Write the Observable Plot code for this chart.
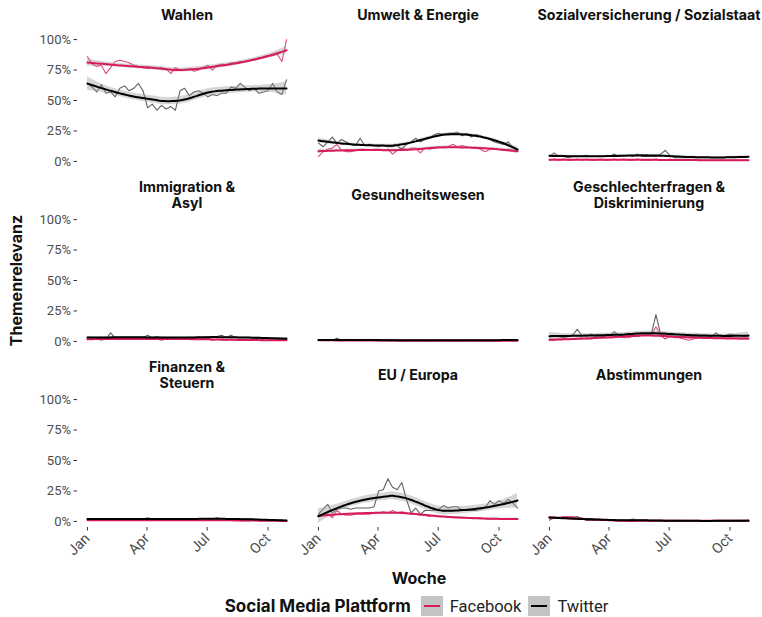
<!DOCTYPE html>
<html>
<head>
<meta charset="utf-8">
<script src="https://cdn.jsdelivr.net/npm/d3@7"></script>
<script src="https://cdn.jsdelivr.net/npm/@observablehq/plot@0.6"></script>
<style>
  html, body { margin: 0; padding: 0; background: #fff; }
  #chart { position: relative; width: 762px; }
  .xtitle { width: 762px; text-align: center; padding-left: 76px; box-sizing: border-box; height: 26px; line-height: 26px;
            font-family: "Inter", sans-serif; font-weight: 700; font-size: 16px; color: #111; }
  .legend { width: 762px; height: 30px; display: flex; justify-content: center; align-items: center;
            padding-left: 78px; box-sizing: border-box;
            font-family: Roboto, sans-serif; font-size: 16.5px; color: #222; }
  .legend .lt { font-family: "Inter", sans-serif; font-weight: 700; font-size: 17px; color: #111; margin-right: 10px; }
  .legend .key { width: 22px; height: 20px; background: #c4c4c4; position: relative; margin-right: 7px; }
  .legend .key i { position: absolute; left: 3px; right: 3px; top: 9px; height: 2px; }
  .legend .lab { margin-right: 7px; }
</style>
</head>
<body>
<div id="chart"></div>
<div class="xtitle">Woche</div>
<div class="legend">
  <span class="lt">Social Media Plattform</span>
  <span class="key"><i style="background:#d81b60"></i></span><span class="lab">Facebook</span>
  <span class="key"><i style="background:#000"></i></span><span class="lab">Twitter</span>
</div>
<script>
// ---------- data (weekly shares in %, 44 weeks from 2019-01-01) ----------
const startDate = "2019-01-01";
const nWeeks = 44;
const platforms = ["Facebook", "Twitter"];
const topics = [
  "Wahlen", "Umwelt & Energie", "Sozialversicherung / Sozialstaat",
  "Immigration &\nAsyl", "Gesundheitswesen", "Geschlechterfragen &\nDiskriminierung",
  "Finanzen &\nSteuern", "EU / Europa", "Abstimmungen"
];
const monthTicks = ["2019-01-01", "2019-04-01", "2019-07-01", "2019-10-01"];
const yTicks = [0, 0.25, 0.5, 0.75, 1];

const fb_wahlen = [86,80,78,79,72,77,82,83,82,81,79,78,77,76,77,76,77,76,72,77,75,75,76,74,75,77,79,75,79,80,79,81,81,82,82,83,83,84,85,86,87,88,82,100];
const tw_wahlen = [64,61,57,63,56,57,53,60,62,58,60,64,58,44,47,42,46,43,45,42,58,60,54,57,58,56,53,55,54,56,56,61,60,64,61,58,60,56,57,58,64,57,55,67];

const fb_umwelt = [4,8,10,11,14,9,8,8,9,10,10,9,10,10,9,10,6,9,11,9,11,11,7,11,10,11,12,11,12,14,12,13,12,11,11,10,8,10,10,10,9,10,9,9];
const tw_umwelt = [15,12,16,20,15,18,16,14,13,19,13,14,13,12,13,12,12,13,10,14,16,19,16,18,19,22,23,22,23,23,24,21,23,20,22,21,19,18,16,15,14,16,11,10];

const fb_sozial = [1,2,1,2,1,1,2,1,2,1,1,2,1,1,2,1,2,1,1,2,1,1,1,2,1,1,2,1,1,1,1,1,1,1,1,1,1,1,1,1,1,1,1,1];
const tw_sozial = [4,7,4,4,3,4,4,4,5,4,4,4,4,4,6,4,5,5,4,6,4,4,4,4,6,9,5,3,3,3,3,3,3,3,3,3,3,3,3,4,4,3,4,4];

const fb_immig = [2,2,2,1,2,2,2,2,2,2,3,2,2,2,2,2,1,2,2,2,2,2,2,2,2,2,2,1,2,1,1,2,1,1,1,1,1,1,1,1,1,1,1,1];
const tw_immig = [3,3,3,3,2,7,3,3,3,3,3,3,3,5,3,4,3,3,3,3,3,3,3,3,3,3,4,3,4,5,3,5,3,3,3,3,3,2,2,3,2,3,2,3];

const fb_gesund = [1,1,0.5,1,1,0.5,1,1,0.5,1,0.5,1,0.5,0.5,1,0.5,0.5,1,0.5,0.5,0.5,1,0.5,0.5,0.5,0.5,1,0.5,0.5,0.5,0.5,0.5,0.5,1,0.5,0.5,0.5,0.5,0.5,0.5,1,0.5,0.5,0.5];
const tw_gesund = [1,1,1,1,2.5,1,1,1,1,1,1,1,1,1,1.5,1,1,1,1,1,1,1,1,1,1,1,1,1,1,1,1,1,1,1,1,1,1,1,1,1,1.5,1,1,1];

const fb_gender = [1,1,2,2,2,2,2,3,2,2,3,3,3,3,3,4,3,3,4,4,5,5,5,12,5,2,4,3,3,2,1,2,3,3,3,3,3,3,3,3,3,2,2,2];
const tw_gender = [4,4,4,3,4,5,10,5,4,6,4,4,4,5,8,5,4,5,4,5,5,6,6,22,6,5,5,4,4,4,4,4,4,4,4,4,7,4,5,6,5,5,4,4];

const fb_finanz = [1,1,1,1,1,1,1,1,1,1,1,1,1,1,1,1,1,1,1,1,1,1,1,1,1,1,1,1,1,1,1,1,1,0.5,0.5,0.5,1,0.5,0.5,0.5,0.5,0.5,0.5,0.5];
const tw_finanz = [2,2,2,2,2,2,2,2,2,2,2,2,2,3,2,2,2,2,2,2,2,2,2,2,2,2,2,2,3,2,2,2,2,2,2,2,2,1,1,1,1,1,1,1];

const fb_eu = [5,5,6,3,9,6,5,5,6,6,6,6,7,7,8,7,9,7,8,7,6,6,5,5,4,5,4,4,4,3,3,3,3,3,3,3,2,2,2,2,2,2,2,2];
const tw_eu = [6,10,14,7,10,11,11,10,11,11,11,11,12,25,26,35,28,26,32,18,7,11,6,9,9,9,10,13,11,12,12,9,9,9,9,10,11,17,14,17,15,18,15,11];

const fb_abst = [1,3,3,4,4,4,3,3,1,1,1,1,1,1,0.5,0.5,0.5,0.5,0.5,0.5,0.5,0.5,0.5,0.5,0.5,0.5,0.5,0.5,0.5,0.5,0.5,0.5,0.5,0.5,0.5,0.5,0.5,0.5,0.5,0.5,0.5,0.5,0.5,1];
const tw_abst = [2,3,3,3,3,3,4,2,1,1,1,1,1,1,1,1,1,1,2,1,1,1,0.5,0.5,0.5,0.5,0.5,0.5,0.5,0.5,0.5,0.5,0.5,0.5,0.5,0.5,0.5,0.5,0.5,0.5,0.5,0.5,0.5,0.5];

const seriesByTopic = [
  [fb_wahlen, tw_wahlen], [fb_umwelt, tw_umwelt], [fb_sozial, tw_sozial],
  [fb_immig, tw_immig], [fb_gesund, tw_gesund], [fb_gender, tw_gender],
  [fb_finanz, tw_finanz], [fb_eu, tw_eu], [fb_abst, tw_abst]
];

// ---------- loess (degree 2, span 0.75) with standard errors ----------
function loessFit(xs, ys, evalX, span = 0.75) {
  const n = xs.length, q = Math.floor(n * span);
  function rowAt(x0) {
    const d = xs.map(x => Math.abs(x - x0));
    const h = [...d].sort((a, b) => a - b)[q - 1] * 1.0001;
    const w = d.map(di => { const u = di / h; return u < 1 ? Math.pow(1 - u * u * u, 3) : 0; });
    const A = [[0,0,0],[0,0,0],[0,0,0]];
    for (let j = 0; j < n; j++) {
      const dx = xs[j] - x0, b = [1, dx, dx * dx];
      for (let r = 0; r < 3; r++) for (let c = 0; c < 3; c++) A[r][c] += w[j] * b[r] * b[c];
    }
    const M = A.map((r, i) => [...r, i === 0 ? 1 : 0]);
    for (let i = 0; i < 3; i++) {
      let p = i; for (let r = i + 1; r < 3; r++) if (Math.abs(M[r][i]) > Math.abs(M[p][i])) p = r;
      [M[i], M[p]] = [M[p], M[i]];
      for (let r = 0; r < 3; r++) if (r !== i) {
        const f = M[r][i] / M[i][i];
        for (let c = i; c < 4; c++) M[r][c] -= f * M[i][c];
      }
    }
    const z = [M[0][3] / M[0][0], M[1][3] / M[1][1], M[2][3] / M[2][2]];
    return xs.map((x, j) => { const dx = x - x0; return w[j] * (z[0] + z[1] * dx + z[2] * dx * dx); });
  }
  const L = xs.map(rowAt);
  const fitted = L.map(l => d3.sum(l, (v, j) => v * ys[j]));
  let delta1 = 0;
  for (let j = 0; j < n; j++) for (let i = 0; i < n; i++) {
    const v = (i === j ? 1 : 0) - L[i][j];
    delta1 += v * v;
  }
  const rss = d3.sum(ys, (y, i) => (y - fitted[i]) ** 2);
  const sigma = Math.sqrt(rss / delta1);
  const tq = 2.02;
  return evalX.map(x0 => {
    const l = rowAt(x0);
    const fit = d3.sum(l, (v, j) => v * ys[j]);
    const se = sigma * Math.sqrt(d3.sum(l, v => v * v));
    return { x: x0, fit, lo: fit - tq * se, hi: fit + tq * se };
  });
}

// ---------- build tables ----------
const t0 = new Date(startDate + "T00:00:00Z");
const weekDate = i => new Date(+t0 + i * 7 * 864e5);
const weekIdx = d3.range(nWeeks);
const evalX = d3.range(0, nWeeks - 1 + 1e-9, (nWeeks - 1) / 80);

const raw = [], smooth = [];
seriesByTopic.forEach((pair, k) => {
  const col = k % 3, row = Math.floor(k / 3);
  pair.forEach((vals, p) => {
    const ys = vals.map(v => v / 100);
    ys.forEach((v, i) => raw.push({ col, row, platform: platforms[p], date: weekDate(i), value: v }));
    loessFit(weekIdx, ys, evalX).forEach(s =>
      smooth.push({ col, row, platform: platforms[p], date: weekDate(s.x), fit: s.fit, lo: s.lo, hi: s.hi }));
  });
});
const titles = topics.map((t, k) => ({ col: k % 3, row: Math.floor(k / 3), title: t }));

const dFirst = weekDate(0), dLast = weekDate(nWeeks - 1);
const pad = (dLast - dFirst) * 0.05;
const FB = "#d81b60", TW_RAW = "#444444";

const plot = Plot.plot({
  width: 762,
  height: 565,
  marginLeft: 77,
  marginRight: 4,
  marginTop: 33,
  marginBottom: 37,
  style: { fontFamily: "Roboto, sans-serif", background: "#fff" },
  fx: { domain: [0, 1, 2], axis: null, paddingInner: 0.052, paddingOuter: 0 },
  fy: { domain: [0, 1, 2], axis: null, paddingInner: 0.2537, paddingOuter: 0 },
  x: { type: "utc", domain: [new Date(+dFirst - pad), new Date(+dLast + pad)] },
  y: { domain: [-0.05, 1.05] },
  marks: [
    Plot.axisY({ ticks: yTicks, tickFormat: d3.format(".0%"), tickSize: 3.5, tickPadding: 3,
                 fontSize: 13, color: "#4d4d4d", stroke: "#333", label: null, facetAnchor: "left" }),
    Plot.axisX({ ticks: monthTicks.map(s => new Date(s + "T00:00:00Z")), tickFormat: d3.utcFormat("%b"),
                 tickRotate: -45, tickSize: 3.5, tickPadding: 5, fontSize: 14.5, color: "#4d4d4d",
                 stroke: "#333", label: null, facetAnchor: "bottom" }),
    Plot.line(raw.filter(d => d.platform === "Facebook"), { x: "date", y: "value", fx: "col", fy: "row",
                 stroke: FB, strokeOpacity: 0.8, strokeWidth: 1.1 }),
    Plot.line(raw.filter(d => d.platform === "Twitter"), { x: "date", y: "value", fx: "col", fy: "row",
                 stroke: TW_RAW, strokeOpacity: 0.85, strokeWidth: 1.1 }),
    Plot.areaY(smooth, { x: "date", y1: "lo", y2: "hi", z: "platform", fx: "col", fy: "row",
                 fill: "#999", fillOpacity: 0.4, clip: true }),
    Plot.line(smooth.filter(d => d.platform === "Facebook"), { x: "date", y: "fit", fx: "col", fy: "row",
                 stroke: FB, strokeWidth: 2 }),
    Plot.line(smooth.filter(d => d.platform === "Twitter"), { x: "date", y: "fit", fx: "col", fy: "row",
                 stroke: "#000", strokeWidth: 2 }),
    Plot.text(titles, { fx: "col", fy: "row", text: "title", frameAnchor: "top", dy: -19, lineAnchor: "middle",
                 lineHeight: 1.15, fontFamily: "Inter, sans-serif", fontWeight: 700, fontSize: 14.2, fill: "#111" }),
    Plot.text(["Themenrelevanz"], { frameAnchor: "left", facet: "super", rotate: -90, dx: -61, dy: 0,
                 textAnchor: "middle", fontFamily: "Inter, sans-serif", fontWeight: 700, fontSize: 16, fill: "#111" })
  ]
});
document.getElementById("chart").appendChild(plot);
</script>
</body>
</html>
